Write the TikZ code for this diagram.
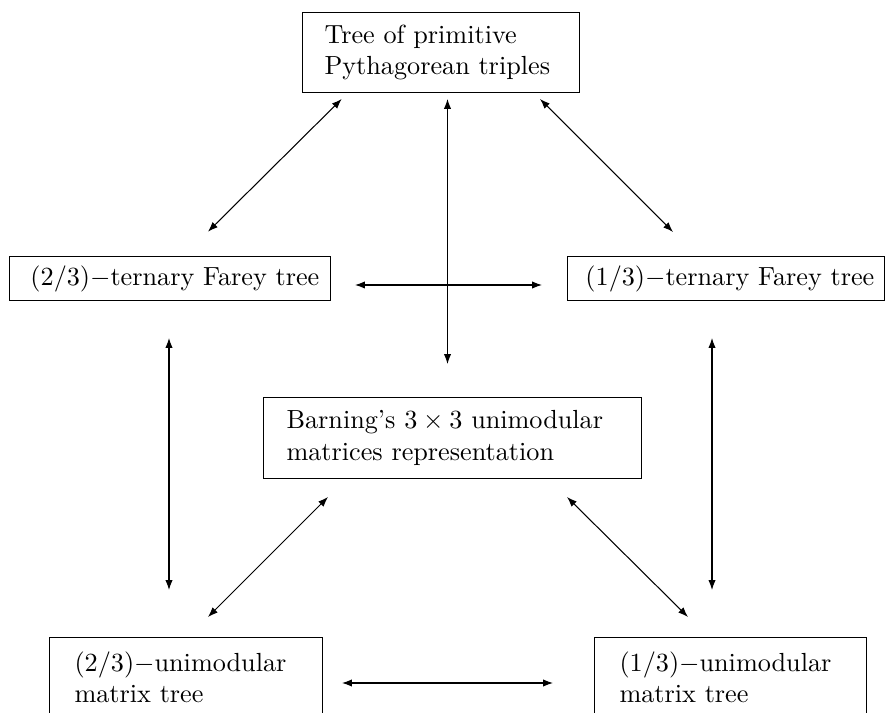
\documentclass[tikz,border=0pt]{standalone}
\usetikzlibrary{arrows.meta}
\def\pxu{0.3817pt}
\tikzset{
  box/.style={draw, rectangle, align=left, inner ysep=0pt},
  link/.style={{Latex[length=3.8pt,width=2.8pt]}-{Latex[length=3.8pt,width=2.8pt]}, line width=0.4pt}
}
\begin{document}
\begin{tikzpicture}[x=\pxu, y=-\pxu]
\useasboundingbox (0,0) rectangle (885,713);
\clip (0,0) rectangle (885,713);
% boxes
\node[box, anchor=north west, inner xsep=22*\pxu, text width=233*\pxu, minimum width=277*\pxu, minimum height=80*\pxu] (top) at (302,12)
  {Tree of primitive\\Pythagorean triples};
\node[box, anchor=north west, inner xsep=4.2pt, minimum width=320*\pxu, minimum height=44*\pxu] (f23) at (9,256)
  {\hspace*{3.8pt}(2/3)$-$ternary Farey tree};
\node[box, anchor=north west, inner xsep=3.8pt, minimum width=316*\pxu, minimum height=44*\pxu] (f13) at (567,256)
  {\hspace*{3.05pt}(1/3)$-$ternary Farey tree};
\node[box, anchor=north west, inner xsep=23*\pxu, text width=332*\pxu, minimum width=378*\pxu, minimum height=81*\pxu] (bar) at (263,397)
  {Barning's $3\times3$ unimodular\\matrices representation};
\node[box, anchor=north west, inner xsep=25*\pxu, text width=223*\pxu, minimum width=273*\pxu, minimum height=80*\pxu] (u23) at (49,637)
  {(2/3)$-$unimodular\\matrix tree};
\node[box, anchor=north west, inner xsep=25*\pxu, text width=222*\pxu, minimum width=272*\pxu, minimum height=80*\pxu] (u13) at (594,637)
  {(1/3)$-$unimodular\\matrix tree};
% arrow end points
\coordinate (a1s) at (341.7,99);  \coordinate (a1e) at (208,231.7);
\coordinate (a2s) at (447.5,99);  \coordinate (a2e) at (447.5,364);
\coordinate (a3s) at (540,99);    \coordinate (a3e) at (673,232);
\coordinate (a4s) at (355,285);   \coordinate (a4e) at (542,285);
\coordinate (a5s) at (169,338);   \coordinate (a5e) at (169,590);
\coordinate (a6s) at (712,338);   \coordinate (a6e) at (712,590);
\coordinate (a7s) at (328,497);   \coordinate (a7e) at (208,617);
\coordinate (a8s) at (567,497);   \coordinate (a8e) at (688,617);
\coordinate (a9s) at (342,683);   \coordinate (a9e) at (553,683);
\foreach \i in {1,...,9} { \draw[link] (a\i s) -- (a\i e); }
\end{tikzpicture}
\end{document}
